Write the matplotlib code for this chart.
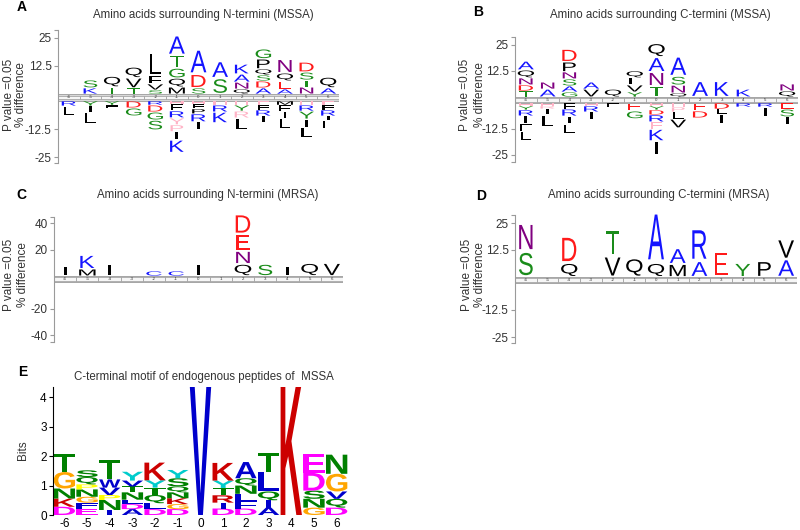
import matplotlib
matplotlib.use('Agg')
import matplotlib.pyplot as plt
from matplotlib.textpath import TextPath
from matplotlib.patches import PathPatch, Rectangle
from matplotlib.font_manager import FontProperties
import matplotlib.transforms as mtransforms

plt.rcParams['font.family'] = ['Liberation Sans', 'DejaVu Sans']
plt.rcParams['axes.unicode_minus'] = False

positions = list(range(-6, 7))

# ---- panel A : N-termini MSSA (letters listed bottom -> top, lowercase = faded) ----
a_up = ['', 'KS', 'TQ', 'TVQ', 'SVFL', 'MQGTA', 'SDA', 'SA', 'QNAK', 'ADSQPG', 'AEQN', 'NTSD', 'AQ']
a_up_val = [[], [2.7, 3.6], [3.1, 4.9], [2.7, 4.5, 4.9], [1.8, 2.7, 3.6, 10.3],
            [3.1, 4.0, 4.5, 5.8, 8.9], [2.7, 6.2, 11.2], [7.1, 7.6], [2.2, 3.1, 3.6, 4.5],
            [2.7, 3.1, 2.7, 2.7, 4.5, 4.5], [2.2, 3.6, 3.6, 6.2], [3.1, 3.1, 3.6, 4.5], [2.7, 4.9]]
a_down = ['RL', 'YIL', 'YF', 'DG', 'RDGS', 'hFRypIK', 'hFPRI', 'hRK', 'hYrL', 'fFRI', 'MFIL', 'hRYIL', 'fFRIL']
a_down_val = [[2.2, 4.5], [2.2, 2.7, 5.4], [1.8, 1.3], [3.1, 3.6], [1.8, 3.1, 3.6, 4.5],
              [1.3, 3.1, 3.1, 3.1, 3.1, 3.6, 5.8], [1.3, 2.2, 2.2, 3.6, 3.6], [1.8, 3.1, 4.9],
              [1.8, 2.7, 3.1, 5.4], [1.8, 2.2, 2.7, 3.1], [1.8, 2.7, 3.1, 4.9],
              [1.8, 2.7, 3.6, 3.6, 4.5], [1.8, 2.2, 2.7, 1.8, 4.0]]

# ---- panel B : C-termini MSSA ----
b_up = ['TDNQA', 'AN', 'GASNPD', 'VA', 'Q', 'YVLQ', 'TNAQ', 'QNSA', 'A', 'K', 'K', '', 'QN']
b_up_val = [[2.9, 2.9, 3.4, 3.8, 4.3], [3.8, 3.4], [2.4, 2.9, 3.4, 3.4, 4.8, 6.2], [3.8, 3.4],
            [3.8], [2.4, 3.4, 3.4, 3.4], [5.3, 6.7, 7.2, 6.7], [1.9, 3.8, 4.3, 9.6],
            [7.7], [7.7], [3.8], [], [2.9, 3.4]]
b_down = ['hYRIFL', 'hrIL', 'FRIL', 'hRI', 'F', 'EG', 'hYDRfKI', 'hpLV', 'ED', 'DLI', 'R', 'RI', 'ESI']
b_down_val = [[1.4, 1.9, 2.9, 3.8, 3.8, 4.3], [1.4, 1.4, 2.9, 5.8], [2.9, 3.4, 3.8, 4.8],
              [1.4, 2.9, 3.4], [1.9], [3.8, 3.8], [1.4, 1.9, 2.4, 3.4, 3.4, 5.8, 6.7],
              [1.9, 2.4, 3.4, 4.3], [3.8, 3.4], [2.9, 2.4, 4.8], [1.9], [1.9, 4.8], [2.9, 3.8, 3.8]]

# ---- panel C : N-termini MRSA ----
c_up = ['I', 'MK', 'I', '', 'C', 'C', 'I', '', 'QNED', 'S', 'I', 'Q', 'V']
c_up_val = [[7.5], [5.3, 10.6], [9.1], [], [3.8], [3.8], [9.1], [],
            [9.1, 9.8, 12.8, 15.1], [9.1], [7.5], [9.8], [9.8]]

# ---- panel D : C-termini MRSA ----
d_up = ['SN', '', 'QD', '', 'VT', 'Q', 'QA', 'MA', 'AR', 'E', 'Y', 'P', 'AV']
d_up_val = [[12.0, 13.0], [], [6.5, 12.5], [], [9.7, 12.5], [8.8], [6.5, 24.1],
            [6.0, 7.4], [7.4, 15.3], [12.0], [6.5], [7.4], [8.3, 9.3]]

# ---- panel E : C-terminal motif (bits) ----
e_letters = ['DKNGT', 'EFGNPQS', 'INPVWT', 'ADLNTVY', 'DLQTYK', 'DGKNQSY', 'V',
             'DIRTYK', 'DFLNQA', 'AIQLT', 'K', 'GNSDE', 'DQVGN']
e_bits = [[.28, .28, .34, .56, .62], [.22, .2, .2, .25, .17, .25, .23],
          [.17, .34, .17, .25, .28, .65], [.2, .17, .15, .25, .2, .2, .3],
          [.2, .2, .28, .25, .25, .6], [.2, .17, .2, .2, .2, .28, .28], [4.35],
          [.22, .2, .25, .25, .25, .6], [.22, .25, .25, .28, .25, .55],
          [.25, .25, .3, .65, .65], [4.35], [.25, .3, .28, .6, .65], [.25, .3, .25, .6, .65]]

ICE_COL = {'A': '#1414ff', 'K': '#1414ff', 'R': '#1414ff', 'H': '#1414ff', 'C': '#1414ff',
           'D': '#ff1a1a', 'E': '#ff1a1a', 'S': '#1a8c1a', 'T': '#1a8c1a', 'G': '#1a8c1a',
           'Y': '#1a8c1a', 'N': '#800080'}
PINK = '#ffb3c6'
WEB_COL = {'D': '#ff00ff', 'E': '#ff00ff', 'K': '#cc0000', 'R': '#cc0000', 'G': '#ffa500',
           'P': '#ffff00', 'T': '#008000', 'N': '#008000', 'S': '#008000', 'Q': '#008000',
           'Y': '#00cccc'}

FP = FontProperties(family='Liberation Sans')
FPB = FontProperties(family='Liberation Sans', weight='bold')
_paths = {}


def glyph(ch, bold=False):
    key = (ch, bold)
    if key not in _paths:
        _paths[key] = TextPath((0, 0), ch, size=1, prop=FPB if bold else FP)
    return _paths[key]


def letter(ax, ch, x0, y0, w, h, color, bold=False):
    p = glyph(ch, bold)
    e = p.get_extents()
    t = (mtransforms.Affine2D().translate(-e.x0, -e.y0)
         .scale(w / e.width, h / e.height).translate(x0, y0))
    ax.add_patch(PathPatch(t.transform_path(p), fc=color, ec='none', lw=0, clip_on=False))


def ice_color(ch):
    if ch.islower():
        return PINK
    return ICE_COL.get(ch, 'black')


def ice_stack(ax, pos, letters, vals, start, sign):
    y = start
    for ch, v in zip(letters, vals):
        gw = max(glyph(ch.upper()).get_extents().width * 1.1, 0.13)
        gap = v * 0.07
        if sign > 0:
            letter(ax, ch.upper(), pos - gw / 2, y + gap, gw, v - 2 * gap, ice_color(ch))
            y += v
        else:
            letter(ax, ch.upper(), pos - gw / 2, y - v + gap, gw, v - 2 * gap, ice_color(ch))
            y -= v


fig = plt.figure(figsize=(8, 5.3), dpi=100)


def px_axes(x0, x1, ytop, ybot):
    return fig.add_axes([x0 / 800, 1 - ybot / 530, (x1 - x0) / 800, (ybot - ytop) / 530])


def ice_panel(x0, x1, ytop, ybot, yc, half, ppu, ticks, up, up_val, down=None, down_val=None):
    ax = px_axes(x0, x1, ytop, ybot)
    g = half / ppu
    ax.set_xlim(-6.5, 6.5)
    ax.set_ylim(-(ybot - yc) / ppu, (yc - ytop) / ppu)
    for s in ['top', 'right', 'bottom']:
        ax.spines[s].set_visible(False)
    ax.spines['left'].set_color('#9a9a9a')
    ax.spines['left'].set_linewidth(0.8)
    ax.set_xticks([])
    tpos = [t + g if t > 0 else t - g for t in ticks]
    ax.set_yticks(tpos)
    ax.set_yticklabels([('%g' % t) for t in ticks])
    ax.tick_params(axis='y', length=3, width=0.8, color='#9a9a9a', labelsize=8.5,
                   labelcolor='#333333', pad=1.5)
    ax.set_yticks(list(ax.get_ylim()), minor=True)
    ax.tick_params(axis='y', which='minor', length=3, width=0.8, color='#9a9a9a')
    ax.add_patch(Rectangle((-6.5, -g), 13.1, 2 * g, fc='#d9d9d9', ec='#9a9a9a', lw=0.6))
    for p in positions:
        ax.add_patch(Rectangle((p - 0.5, -g * 0.55), 1, 1.1 * g, fc='#f6f6f6', ec='#9a9a9a', lw=0.5))
        ax.text(p, 0, str(p), fontsize=3.2, ha='center', va='center', color='#333333')
    for i, p in enumerate(positions):
        ice_stack(ax, p, up[i], up_val[i], g, 1)
        if down is not None:
            ice_stack(ax, p, down[i], down_val[i], -g, -1)
    return ax


ice_panel(58, 339, 30, 163, 97.5, 3.5, 2.24, [25, 12.5, -12.5, -25], a_up, a_up_val, a_down, a_down_val)
ice_panel(515, 798, 37, 162, 100, 3.0, 2.08, [25, 12.5, -12.5, -25], b_up, b_up_val, b_down, b_down_val)
ice_panel(54, 343, 217, 342, 279, 3.0, 1.325, [40, 20, -20, -40], c_up, c_up_val)
ice_panel(515, 797, 215, 343, 280, 3.0, 2.16, [25, 12.5, -12.5, -25], d_up, d_up_val)

# panel E
axe = px_axes(53, 348, 387, 515)
axe.set_xlim(-6.5, 6.5)
axe.set_ylim(0, 4.35)
for s in ['top', 'right', 'bottom']:
    axe.spines[s].set_visible(False)
axe.spines['left'].set_linewidth(0.8)
axe.set_yticks([0, 1, 2, 3, 4])
axe.set_xticks(positions)
axe.tick_params(axis='y', length=3, width=0.8, labelsize=8.5, pad=1.5)
axe.tick_params(axis='x', length=0, labelsize=8.5, pad=2)
for i, p in enumerate(positions):
    y = 0
    for ch, v in zip(e_letters[i], e_bits[i]):
        w = 0.22 if ch == 'I' else 0.94
        letter(axe, ch, p - w / 2, y, w, v, WEB_COL.get(ch, '#0000cc'), bold=True)
        y += v

# texts
tkw = dict(ha='center', va='center', fontsize=8.3, color='#333333')
fig.text(203 / 800, 1 - 15 / 530, 'Amino acids surrounding N-termini (MSSA)', **tkw)
fig.text(660 / 800, 1 - 15 / 530, 'Amino acids surrounding C-termini (MSSA)', **tkw)
fig.text(208 / 800, 1 - 195 / 530, 'Amino acids surrounding N-termini (MRSA)', **tkw)
fig.text(659 / 800, 1 - 195 / 530, 'Amino acids surrounding C-termini (MRSA)', **tkw)
fig.text(204 / 800, 1 - 377 / 530, 'C-terminal motif of endogenous peptides of  MSSA', **tkw)

lkw = dict(ha='center', va='center', fontsize=8.5, color='#333333', rotation=90)
for xp, xd, yc in [(9, 21, 95), (465, 480, 95), (9, 23, 275), (467, 480, 275)]:
    fig.text(xp / 800, 1 - yc / 530, 'P value =0.05', **lkw)
    fig.text(xd / 800, 1 - yc / 530, '% difference', **lkw)
fig.text(23 / 800, 1 - 450 / 530, 'Bits', **lkw)

pkw = dict(ha='center', va='center', fontsize=10, fontweight='bold')
for lab, xx, yy in [('A', 22, 7), ('B', 478, 12), ('C', 21, 195), ('D', 481, 196), ('E', 23, 372)]:
    fig.text(xx / 800, 1 - yy / 530, lab, **pkw)

fig.savefig('out.png', dpi=100)
